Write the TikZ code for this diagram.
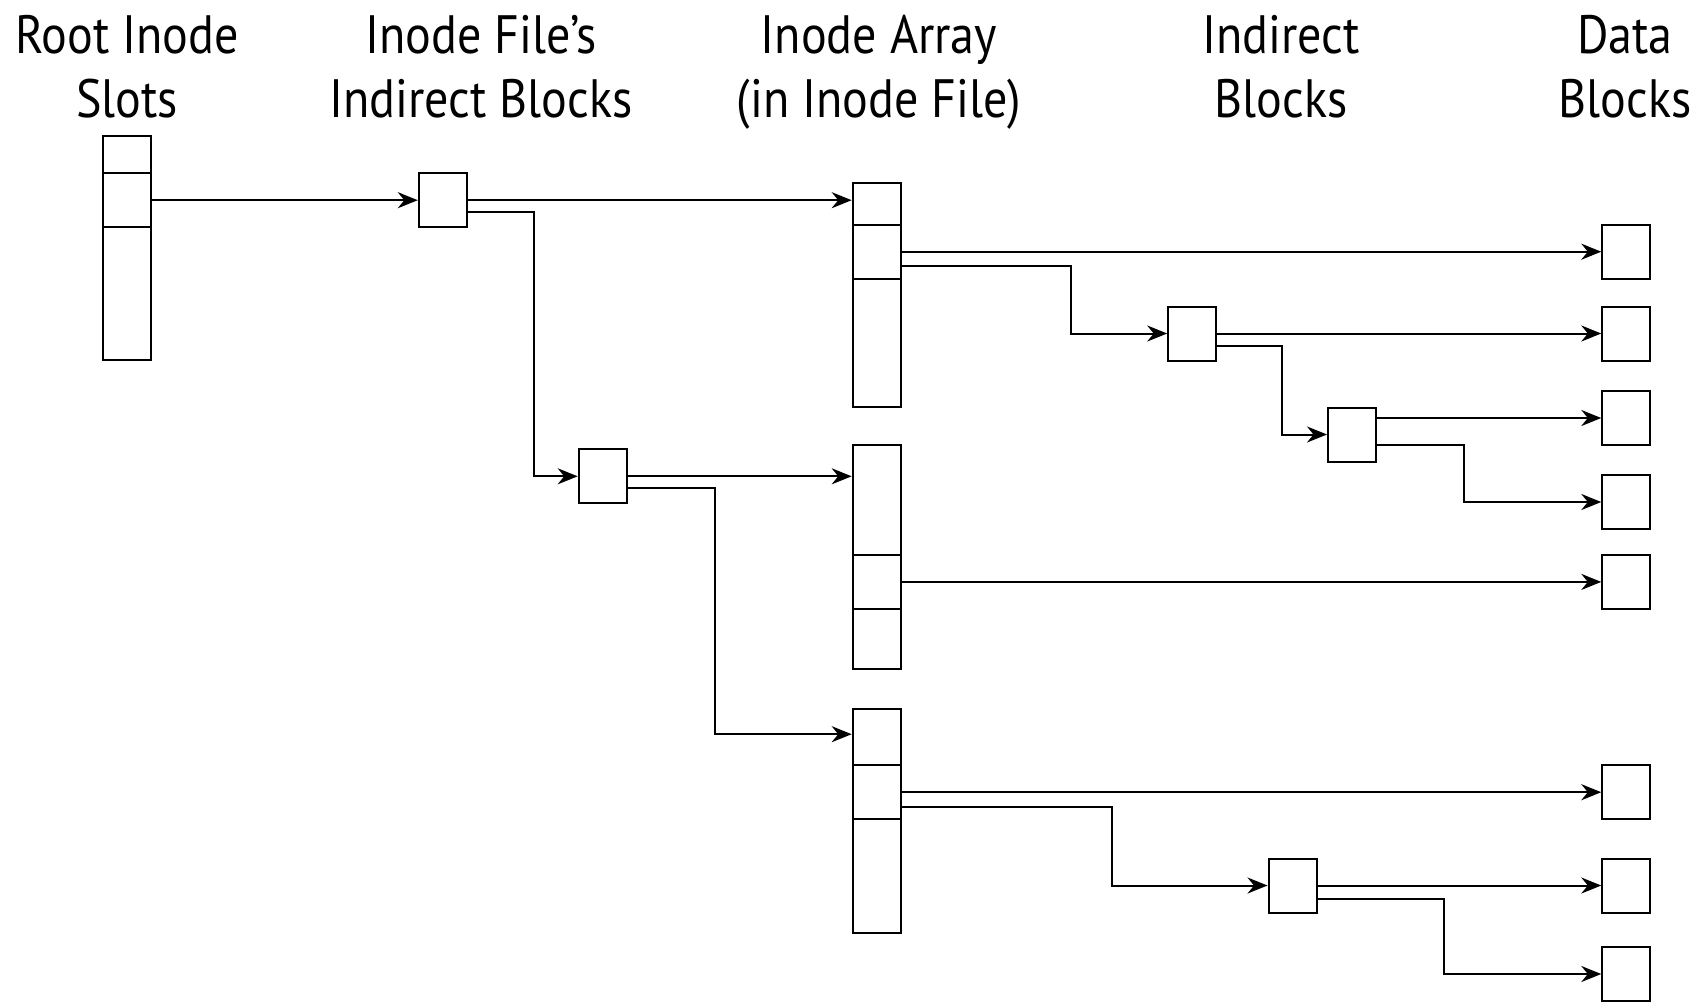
\documentclass[tikz,border=0pt]{standalone}
\usepackage{fontspec}
\setmainfont{PT Sans}[FakeStretch=0.89]
\usetikzlibrary{arrows.meta, positioning}

\begin{document}
\begin{tikzpicture}[x=0.5pt, y=-0.5pt,
        blk/.style={draw, line width=1pt, minimum width=24pt, minimum height=27pt, inner sep=0pt},
        col/.style={draw, line width=1pt, minimum width=24pt, minimum height=112pt, inner sep=0pt},
        hdr/.style={align=center, font=\fontsize{27}{32}\selectfont, anchor=base},
        ptr/.style={-{Stealth[length=10pt, width=8pt]}, line width=1pt}]
        \useasboundingbox (0,0) rectangle (1702,1001);
        % column headers
        \node[hdr] (hroot) at (127,117) {Root Inode\\Slots};
        \node[hdr] (hfile) at (481,117) {Inode File’s\\Indirect Blocks};
        \node[hdr] (harr) at (879,117) {Inode Array\\(in Inode File)};
        \node[hdr] (hind) at (1281,117) {Indirect\\Blocks};
        \node[hdr] (hdata) at (1625,117) {Data\\Blocks};
        % root inode slots
        \node[col] (root) at (127.4,247.8) {};
        \node[blk] (rs) at (127.4,200.2) {};
        % inode file's indirect blocks
        \node[blk] (f1) at (442.8,200.2) {};
        \node[blk] (f2) at (602.7,476.3) {};
        % inode arrays and their used slots
        \node[col] (ia1) at (876.7,295) {};
        \node[blk] (s1) at (876.7,251.7) {};
        \node[col] (ia2) at (876.7,556.9) {};
        \node[blk] (s2) at (876.7,581.9) {};
        \node[col] (ia3) at (876.7,821.2) {};
        \node[blk] (s3) at (876.7,792.2) {};
        % indirect blocks
        \node[blk] (b1) at (1192.2,333.5) {};
        \node[blk] (b2) at (1352,434.5) {};
        \node[blk] (b3) at (1292.5,885.5) {};
        % data blocks
        \node[blk] (d1) at (1626.3,251.7) {};
        \node[blk] (d2) at (1626.3,333.5) {};
        \node[blk] (d3) at (1626.3,418) {};
        \node[blk] (d4) at (1626.3,502) {};
        \node[blk] (d5) at (1626.3,581.9) {};
        \node[blk] (d6) at (1626.3,792.2) {};
        \node[blk] (d7) at (1626.3,885.5) {};
        \node[blk] (d8) at (1626.3,974) {};
        % pointers
        \draw[ptr] (rs.east) -- (f1.west);
        \draw[ptr] (f1.east) -- (f1.east -| ia1.west);
        \draw[ptr] ([yshift=-6pt]f1.east) -| ([xshift=-22pt]f2.west) -- (f2.west);
        \draw[ptr] (f2.east) -- (f2.east -| ia2.west);
        \draw[ptr] ([yshift=-6pt]f2.east) -| ([xshift=-68.5pt, yshift=-13pt]ia3.north west) -- ([yshift=-13pt]ia3.north west);
        \draw[ptr] (s1.east) -- (s1.east -| d1.west);
        \draw[ptr] ([yshift=-7pt]s1.east) -| ([xshift=-48pt]b1.west) -- (b1.west);
        \draw[ptr] (b1.east) -- (b1.east -| d2.west);
        \draw[ptr] ([yshift=-6pt]b1.east) -| ([xshift=-22.5pt]b2.west) -- (b2.west);
        \draw[ptr] (b2.east |- d3.west) -- (d3.west);
        \draw[ptr] ([yshift=-5pt]b2.east) -| ([xshift=-68.8pt]d4.west) -- (d4.west);
        \draw[ptr] (s2.east) -- (s2.east -| d5.west);
        \draw[ptr] (s3.east) -- (s3.east -| d6.west);
        \draw[ptr] ([yshift=-7.5pt]s3.east) -| ([xshift=-77.8pt]b3.west) -- (b3.west);
        \draw[ptr] (b3.east) -- (b3.east -| d7.west);
        \draw[ptr] ([yshift=-6.5pt]b3.east) -| ([xshift=-78.8pt]d8.west) -- (d8.west);
    \end{tikzpicture}
\end{document}
